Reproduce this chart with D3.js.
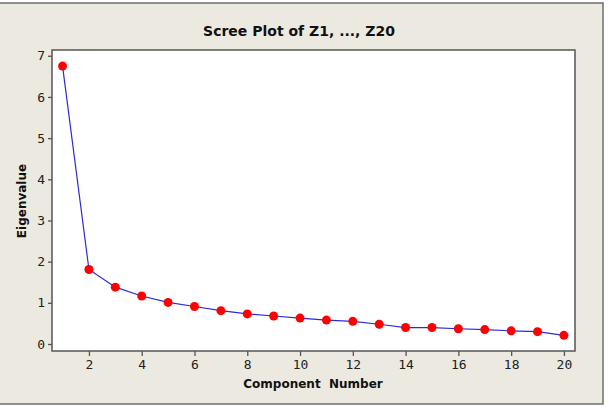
<!DOCTYPE html>
<html>
<head>
<meta charset="utf-8">
<script src="https://cdn.jsdelivr.net/npm/d3@7"></script>
<style>
  body { margin: 0; background: #ffffff; }
  svg { display: block; }
</style>
</head>
<body>
<div id="chart"></div>
<script>
// Scree plot data
const components = [1, 2, 3, 4, 5, 6, 7, 8, 9, 10, 11, 12, 13, 14, 15, 16, 17, 18, 19, 20];
const eigenvalues = [6.75, 1.81, 1.38, 1.165, 1.01, 0.91, 0.81, 0.73, 0.68, 0.63,
                     0.58, 0.55, 0.48, 0.40, 0.40, 0.37, 0.35, 0.32, 0.30, 0.21];
const xTicks = [2, 4, 6, 8, 10, 12, 14, 16, 18, 20];
const yTicks = [0, 1, 2, 3, 4, 5, 6, 7];

const W = 609, H = 409;
const plot = { left: 52, right: 575, top: 50, bottom: 351 };

const svg = d3.select("#chart")
    .append("svg")
    .attr("width", W)
    .attr("height", H);

// Outer panel
svg.append("rect")
    .attr("x", -5).attr("y", 0)
    .attr("width", W + 10).attr("height", H)
    .attr("fill", "#ffffff");
svg.append("rect")
    .attr("x", -5).attr("y", 3)
    .attr("width", 608).attr("height", 401)
    .attr("fill", "#ece9e1")
    .attr("stroke", "#6e6e6e")
    .attr("stroke-width", 1.5);

// Scales
const x = d3.scaleLinear().domain([0.6, 20.42]).range([plot.left, plot.right]);
const y = d3.scaleLinear().domain([-0.17, 7.14]).range([plot.bottom, plot.top]);

// Plot area
svg.append("rect")
    .attr("x", plot.left).attr("y", plot.top)
    .attr("width", plot.right - plot.left)
    .attr("height", plot.bottom - plot.top)
    .attr("fill", "#ffffff")
    .attr("stroke", "#555555")
    .attr("stroke-width", 1.5);

// Axes
const yAxis = svg.append("g")
    .attr("transform", `translate(${plot.left},0)`)
    .call(d3.axisLeft(y).tickValues(yTicks).tickSize(4).tickPadding(3));
const xAxis = svg.append("g")
    .attr("transform", `translate(0,${plot.bottom})`)
    .call(d3.axisBottom(x).tickValues(xTicks).tickSize(5).tickPadding(4));

[xAxis, yAxis].forEach(g => {
    g.attr("font-size", null).attr("font-family", null);
    g.select(".domain").remove();
    g.selectAll("line").attr("stroke", "#555555").attr("stroke-width", 1.3);
    g.selectAll("text")
        .attr("fill", "#222222")
        .style("font-family", "'DejaVu Sans Mono', monospace")
        .style("font-size", "13px");
});

// Line
const line = d3.line()
    .x((d, i) => x(components[i]))
    .y(d => y(d));

svg.append("path")
    .datum(eigenvalues)
    .attr("d", line)
    .attr("fill", "none")
    .attr("stroke", "#2b2bd9")
    .attr("stroke-width", 1.2);

// Points
svg.selectAll("circle.pt")
    .data(eigenvalues)
    .enter()
    .append("circle")
    .attr("class", "pt")
    .attr("cx", (d, i) => x(components[i]))
    .attr("cy", d => y(d))
    .attr("r", 4.5)
    .attr("fill", "#ff0000");

// Title
svg.append("text")
    .attr("x", 299)
    .attr("y", 36)
    .attr("text-anchor", "middle")
    .style("font-family", "'DejaVu Sans', sans-serif")
    .style("font-size", "14px")
    .style("font-weight", "bold")
    .attr("fill", "#111111")
    .text("Scree Plot of Z1, ..., Z20");

// X-axis label
svg.append("text")
    .attr("x", 313)
    .attr("y", 388)
    .attr("text-anchor", "middle")
    .style("font-family", "'DejaVu Sans', sans-serif")
    .style("font-size", "12px")
    .style("font-weight", "bold")
    .attr("fill", "#111111")
    .attr("xml:space", "preserve")
    .text("Component  Number");

// Y-axis label
svg.append("text")
    .attr("transform", "rotate(-90)")
    .attr("x", -201)
    .attr("y", 26)
    .attr("text-anchor", "middle")
    .style("font-family", "'DejaVu Sans', sans-serif")
    .style("font-size", "12px")
    .style("font-weight", "bold")
    .attr("fill", "#111111")
    .text("Eigenvalue");
</script>
</body>
</html>
